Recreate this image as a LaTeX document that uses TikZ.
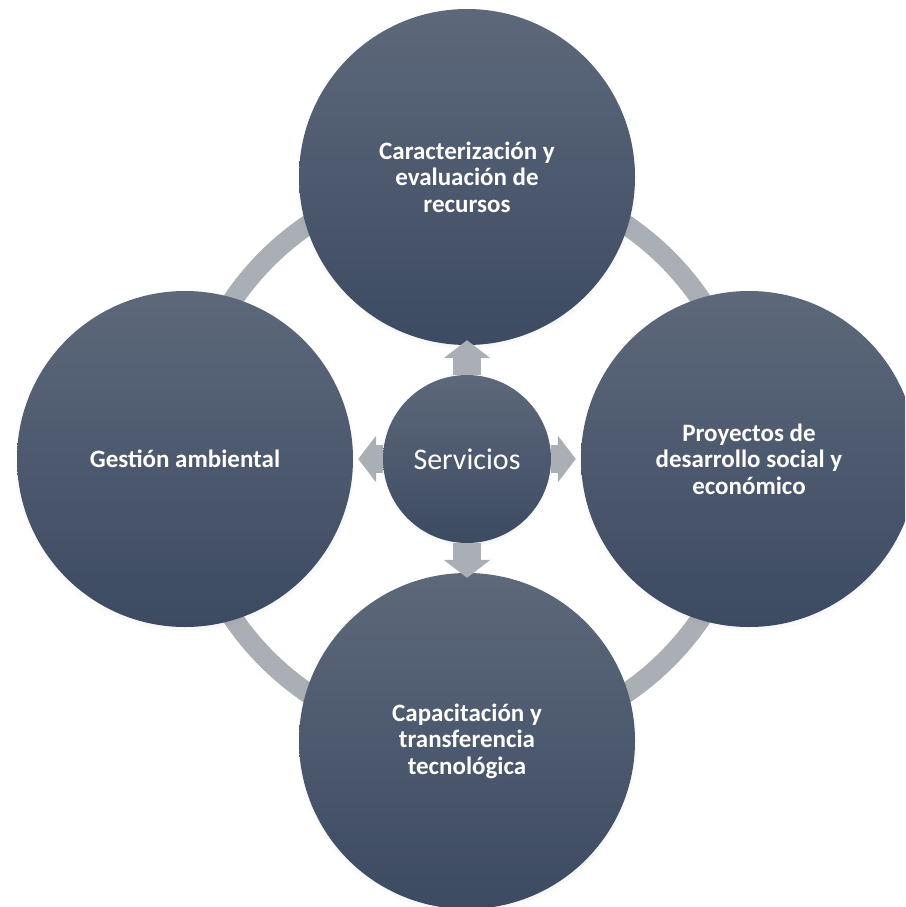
\documentclass[tikz,border=0pt]{standalone}
\usepackage{fontspec}
\setmainfont{Carlito}
\usepackage{tikz}
\usetikzlibrary{arrows.meta, positioning, shadows}
\definecolor{circtop}{RGB}{93,104,122}
\definecolor{circbot}{RGB}{60,74,98}
\definecolor{ringgray}{RGB}{170,174,181}

\begin{document}
\begin{tikzpicture}[x=1pt,y=-1pt,
  bigcirc/.style={circle, minimum size=336pt, inner sep=0pt, top color=circtop, bottom color=circbot, text=white, align=center,
    font=\fontsize{25}{26.5}\selectfont\bfseries,
    circular drop shadow={shadow xshift=0pt, shadow yshift=-2pt, opacity=0.3, shadow scale=1.02}},
  hubcirc/.style={bigcirc, minimum size=168pt, font=\fontsize{30}{36}\selectfont},
  blockarrow/.style={draw=ringgray, line width=28pt, -{Triangle[width=46pt, length=18pt]}}]

\useasboundingbox (0,0) rectangle (905,907);
\clip (0,0) rectangle (905,907);

% ring behind the circles
\coordinate (mid) at (467,459);
\draw[ringgray, line width=20pt] (mid) circle[radius=283pt];

\node[bigcirc] (recursos) at (467,177) {Caracterización y\\evaluación de\\recursos};
\node[bigcirc] (gestion) at (185,459) {Gestión ambiental};
\node[bigcirc] (proyectos) at (749,459) {Proyectos de\\desarrollo social y\\económico};
\node[bigcirc] (capacitacion) at (467,741) {Capacitación y\\transferencia\\tecnológica};
\node[hubcirc] (hub) at (mid) {Servicios};

\draw[blockarrow] (hub.north) -- ([yshift=5pt]recursos.south);
\draw[blockarrow] (hub.south) -- ([yshift=-5pt]capacitacion.north);
\draw[blockarrow] (hub.west) -- ([xshift=5pt]gestion.east);
\draw[blockarrow] (hub.east) -- ([xshift=-5pt]proyectos.west);
\end{tikzpicture}
\end{document}
